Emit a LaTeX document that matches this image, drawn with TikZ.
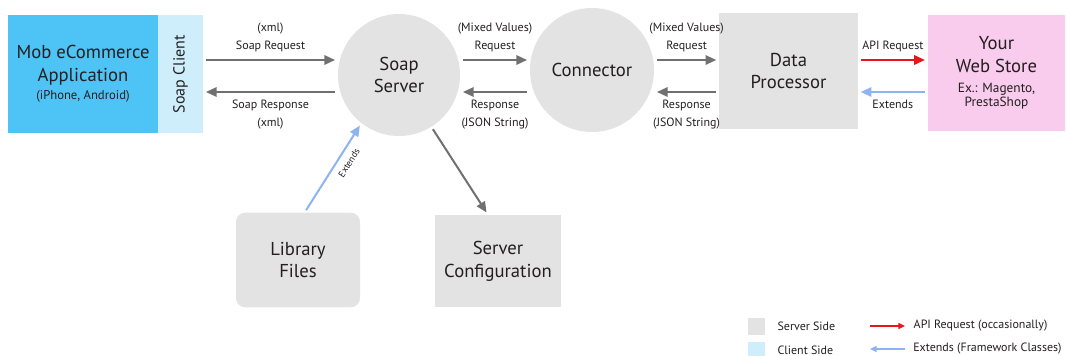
\documentclass[tikz,border=0pt]{standalone}
\usepackage{fontspec}
\setmainfont{PT Sans}
\usetikzlibrary{arrows.meta,positioning}
\definecolor{srvgray}{HTML}{E3E3E3}
\definecolor{appblue}{HTML}{4EC3F5}
\definecolor{cliblue}{HTML}{CFEEFB}
\definecolor{storepink}{HTML}{F9CBEC}
\definecolor{arrgray}{HTML}{707070}
\definecolor{reqred}{HTML}{E8151B}
\definecolor{extblue}{HTML}{8DB3F2}
\definecolor{txt}{HTML}{231F20}

\begin{document}
\begin{tikzpicture}[
  x=0.75pt,y=-0.75pt,text=txt,
  block/.style={rectangle,fill=srvgray,align=center,inner sep=2pt,
                font=\fontsize{14}{17}\selectfont},
  disc/.style={circle,fill=srvgray,align=center,inner sep=0pt,
               font=\fontsize{14}{17}\selectfont},
  lbl/.style={align=center,inner sep=1pt,font=\fontsize{9}{14}\selectfont},
  leg/.style={inner sep=1pt,font=\fontsize{9}{10}\selectfont},
  legsq/.style={rectangle,minimum size=12.75pt,inner sep=0pt},
  arr/.style={-{Triangle[length=8pt,width=7pt]},draw=arrgray,line width=1.5pt,
              shorten >=2pt,shorten <=2pt},
  rarr/.style={arr,draw=reqred},
  barr/.style={arr,draw=extblue},
  larr/.style={-{Triangle[length=5pt,width=4.5pt]},line width=1.1pt}
]
\useasboundingbox (0,0) rectangle (1067,356);

% main row
\node[block,fill=appblue,minimum width=112.5pt,minimum height=88.5pt] (app) at (83,74)
  {Mob eCommerce\\Application\\[-3.5pt]{\fontsize{9.5}{10}\selectfont (iPhone, Android)}};
\node[rectangle,fill=cliblue,minimum width=33.75pt,minimum height=88.5pt,inner sep=0pt,
      font=\fontsize{12}{14}\selectfont] (client) at (180.5,74) {\rotatebox{90}{Soap Client}};
\node[disc,minimum size=91.5pt] (soap) at (399,75) {Soap\\Server};
\node[disc,minimum size=93pt] (conn) at (592,70) {Connector};
\node[block,minimum width=104pt,minimum height=87pt] (dp) at (788.5,71) {Data\\Processor};
\node[block,fill=storepink,minimum width=103pt,minimum height=87pt] (store) at (996.5,73)
  {Your\\Web Store\\[-1.5pt]{\fontsize{10}{11}\selectfont Ex.: Magento,}\\[-6.5pt]
   {\fontsize{10}{11}\selectfont PrestaShop}};

% lower row
\node[block,rounded corners=7pt,minimum width=93pt,minimum height=71pt] (lib) at (298,260) {Library\\Files};
\node[block,minimum width=94.5pt,minimum height=69pt] (cfg) at (498,261) {Server\\Configuration};

\coordinate (rq) at (0,60);
\coordinate (rs) at (0,92);

\draw[arr](client.east|-rq)--(soap.west|-rq) node[lbl,midway,above=4pt]{(xml)\\Soap Request};
\draw[arr](soap.west|-rs)--(client.east|-rs) node[lbl,midway,below=4pt]{Soap Response\\(xml)};
\draw[arr](soap.east|-rq)--(conn.west|-rq) node[lbl,midway,above=4pt]{(Mixed Values)\\Request};
\draw[arr](conn.west|-rs)--(soap.east|-rs) node[lbl,midway,below=4pt]{Response\\(JSON String)};
\draw[arr](conn.east|-rq)--(dp.west|-rq) node[lbl,midway,above=4pt]{(Mixed Values)\\Request};
\draw[arr](dp.west|-rs)--(conn.east|-rs) node[lbl,midway,below=4pt]{Response\\(JSON String)};
\draw[rarr](dp.east|-rq)--(store.west|-rq) node[lbl,midway,above=4pt]{API Request};
\draw[barr](store.west|-rs)--(dp.east|-rs) node[lbl,midway,below=4pt]{Extends};
\draw[barr]([xshift=5pt]lib.north)--(soap.232)
    node[lbl,pos=0.62,sloped,below=4pt,font=\fontsize{7}{8}\selectfont]{Extends};
\draw[arr](soap.302)--([xshift=-7.5pt]cfg.north);

% legend
\node[legsq,fill=srvgray] (lsrv) at (756.5,326.5) {};
\node[leg,right=8pt of lsrv] (lsrvt) {Server Side};
\node[legsq,fill=cliblue] (lcli) at (756.5,350.5) {};
\node[leg,right=8pt of lcli] (lclit) {Client Side};
\coordinate (lr1) at (870,326);
\coordinate (lr2) at (905,326);
\coordinate (lb1) at (870,349);
\coordinate (lb2) at (905,349);
\draw[larr,draw=reqred,fill=reqred](lr1)--(lr2) node[leg,right=5pt]{API Request (occasionally)};
\draw[larr,draw=extblue,fill=extblue](lb2)--(lb1);
\node[leg,right=5pt of lb2] (lbt) {Extends (Framework Classes)};
\end{tikzpicture}
\end{document}
